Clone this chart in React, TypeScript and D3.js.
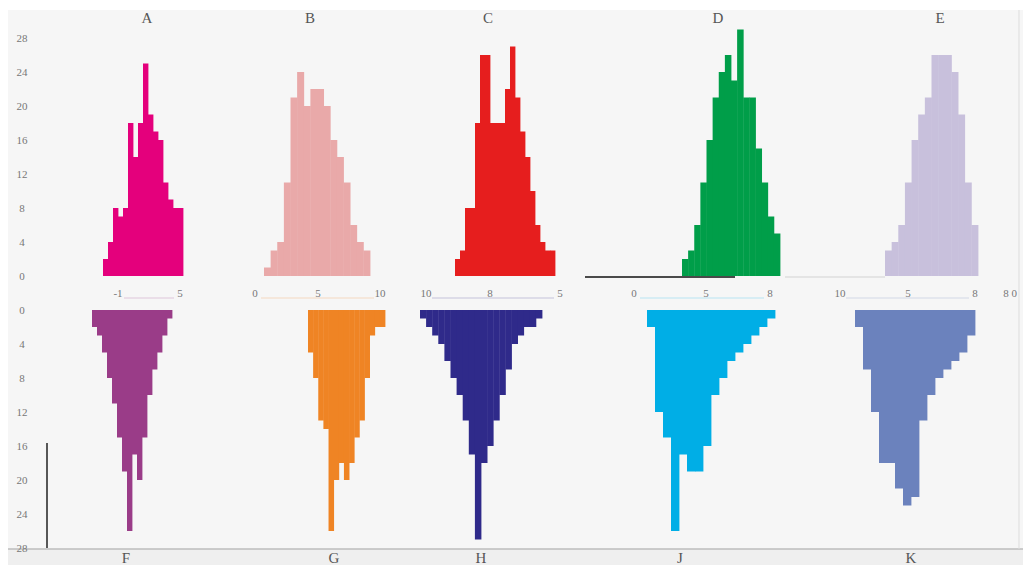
import React from 'react'
import * as d3 from 'd3'

// panel letters
const topLetters = ['A', 'B', 'C', 'D', 'E']
const bottomLetters = ['F', 'G', 'H', 'J', 'K']

// histogram bin counts
const countsA = [2, 4, 8, 7, 8, 18, 14, 18, 25, 19, 17, 16, 11, 9, 8, 8]
const countsB = [1, 3, 4, 11, 21, 24, 20, 22, 22, 20, 16, 14, 11, 6, 4, 3]
const countsC = [2, 3, 8, 8, 18, 26, 26, 18, 18, 18, 22, 27, 21, 17, 14, 10, 6, 4, 3, 3]
const countsD = [2, 3, 6, 11, 16, 21, 24, 26, 23, 29, 21, 21, 15, 11, 7, 5]
const countsE = [3, 4, 6, 11, 16, 19, 21, 26, 26, 26, 24, 19, 11, 6]
const countsF = [2, 3, 5, 8, 11, 15, 19, 26, 17, 20, 15, 10, 7, 5, 3, 1]
const countsG = [5, 8, 13, 14, 26, 20, 18, 20, 18, 15, 13, 8, 3, 2, 2]
const countsH = [1, 2, 3, 4, 6, 8, 10, 13, 17, 27, 18, 16, 13, 10, 7, 4, 3, 2, 2, 1]
const countsJ = [2, 12, 15, 26, 17, 19, 19, 16, 10, 8, 6, 5, 4, 3, 2, 1]
const countsK = [2, 7, 12, 18, 18, 21, 23, 22, 13, 10, 8, 7, 6, 5, 3]

const topCounts = [countsA, countsB, countsC, countsD, countsE]
const bottomCounts = [countsF, countsG, countsH, countsJ, countsK]

// left axis tick labels
const yTicks = [0, 4, 8, 12, 16, 20, 24, 28]
// labels under the top row, per panel
const midTickLabels = [
  ['-1', '5'],
  ['0', '5', '10'],
  ['10', '8', '5'],
  ['0', '5', '8'],
  ['10', '5', '8'],
]

// layout
const W = 1023
const H = 565
const topBase = 276
const bottomBase = 310
const topExtents = [[103, 183], [264, 370], [455, 555], [682, 780], [885, 978]]
const bottomExtents = [[92, 172], [308, 385], [420, 542], [647, 775], [855, 975]]
const topLetterX = [147, 310, 488, 718, 940]
const bottomLetterX = [126, 334, 481, 680, 911]
const midTickX = [
  [118, 180],
  [255, 318, 380],
  [426, 490, 560],
  [634, 706, 770],
  [840, 908, 975],
]
const topColors = ['#e4007c', '#e9a9a9', '#e61e1e', '#009e49', '#c8c0dc']
const bottomColors = ['#9a3c88', '#ef8424', '#2f2a8a', '#00aee6', '#6b82bd']

const yUp = d3.scaleLinear().domain([0, 30]).range([topBase, topBase - 30 * 8.5])
const yDown = d3.scaleLinear().domain([0, 30]).range([bottomBase, bottomBase + 30 * 8.5])

const font = '"Liberation Serif", "DejaVu Serif", serif'

function Hist({ counts, extent, color, up }: { counts: number[]; extent: number[]; color: string; up: boolean }) {
  const x = d3.scaleLinear().domain([0, counts.length]).range(extent)
  return (
    <g>
      {counts.map((c, i) => {
        const x0 = x(i)
        const w = x(i + 1) - x0 + 0.4
        const y0 = up ? yUp(c) : yDown(0)
        const h = up ? yUp(0) - yUp(c) : yDown(c) - yDown(0)
        return <rect key={i} x={x0} y={y0} width={w} height={h} fill={color} />
      })}
    </g>
  )
}

export default function App() {
  return (
    <div style={{ position: 'absolute', left: 0, top: 0 }}>
      <svg width={W} height={H} style={{ display: 'block' }}>
        <rect x={0} y={0} width={W} height={H} fill="#ffffff" />
        <rect x={8} y={10} width={W - 8} height={H - 10} fill="#f6f6f6" />
        {/* bottom strip */}
        <rect x={8} y={549} width={W - 8} height={16} fill="#efefef" />
        <line x1={8} x2={W} y1={549} y2={549} stroke="#bdbdbd" strokeWidth={1.5} />
        <line x1={1019} x2={1019} y1={10} y2={549} stroke="#dddddd" strokeWidth={1} />

        {/* left axis labels */}
        {yTicks.map(t => (
          <text key={'u' + t} x={22} y={yUp(t) + 4} textAnchor="middle" fontFamily={font} fontSize={11} fill="#777">
            {t}
          </text>
        ))}
        {yTicks.map(t => (
          <text key={'d' + t} x={22} y={yDown(t) + 4} textAnchor="middle" fontFamily={font} fontSize={11} fill="#777">
            {t}
          </text>
        ))}
        <line x1={47} x2={47} y1={443} y2={548} stroke="#222" strokeWidth={1.5} />

        {/* top row */}
        {topCounts.map((c, i) => (
          <Hist key={'t' + i} counts={c} extent={topExtents[i]} color={topColors[i]} up={true} />
        ))}
        {/* bottom row */}
        {bottomCounts.map((c, i) => (
          <Hist key={'b' + i} counts={c} extent={bottomExtents[i]} color={bottomColors[i]} up={false} />
        ))}

        {/* baseline bits */}
        <line x1={585} x2={735} y1={277} y2={277} stroke="#111" strokeWidth={1.5} />
        <line x1={785} x2={885} y1={277} y2={277} stroke="#e4e4e4" strokeWidth={2} />

        {/* mid tick labels and faint axis lines */}
        {midTickLabels.map((labels, i) => (
          <g key={'m' + i}>
            <line
              x1={midTickX[i][0] + 6}
              x2={midTickX[i][midTickX[i].length - 1] - 6}
              y1={298}
              y2={298}
              stroke={bottomColors[i]}
              strokeOpacity={0.25}
              strokeWidth={1}
            />
            {labels.map((l, j) => (
              <text key={j} x={midTickX[i][j]} y={297} textAnchor="middle" fontFamily={font} fontSize={11} fill="#777">
                {l}
              </text>
            ))}
          </g>
        ))}
        <text x={1010} y={297} textAnchor="middle" fontFamily={font} fontSize={11} fill="#777">
          8 0
        </text>

        {/* letters */}
        {topLetters.map((l, i) => (
          <text key={l} x={topLetterX[i]} y={23} textAnchor="middle" fontFamily={font} fontSize={15} fill="#555">
            {l}
          </text>
        ))}
        {bottomLetters.map((l, i) => (
          <text key={l} x={bottomLetterX[i]} y={563} textAnchor="middle" fontFamily={font} fontSize={15} fill="#555">
            {l}
          </text>
        ))}
      </svg>
    </div>
  )
}
